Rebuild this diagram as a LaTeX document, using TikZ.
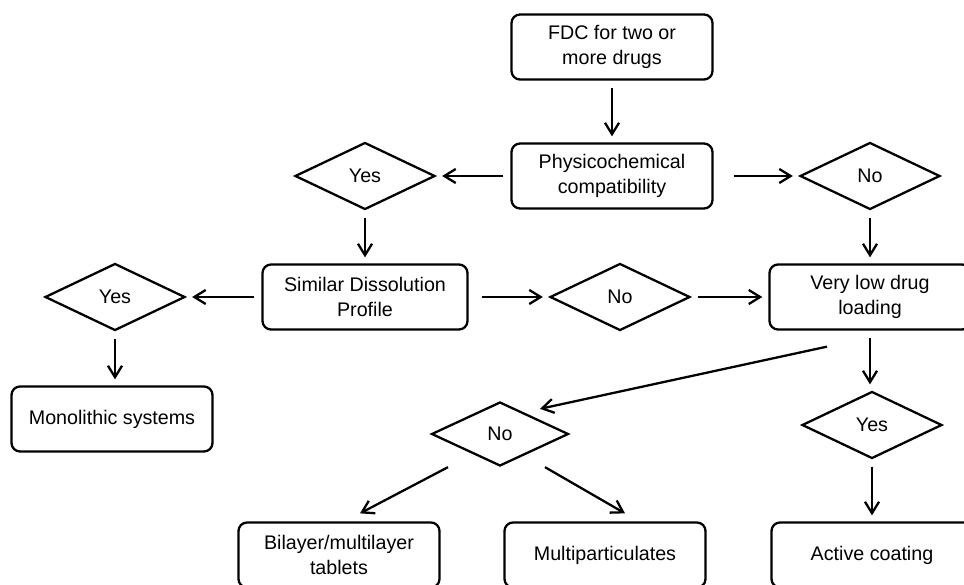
\documentclass[tikz,border=0pt]{standalone}
\usepackage{fontspec}
\setmainfont{Liberation Sans}
\usetikzlibrary{shapes.geometric,arrows.meta,calc}
\tikzset{
	box/.style={draw, line width=1.3pt, rounded corners=0.17cm, minimum width=4.02cm, minimum height=1.3cm, align=center, font=\fontsize{11.2}{14}\selectfont},
	decision/.style={draw, diamond, line width=1.3pt, inner sep=0pt, minimum width=2.8cm, minimum height=1.34cm, font=\fontsize{11.2}{14}\selectfont},
	arr/.style={-{Straight Barb[length=6.5pt,width=8pt]}, line width=1.3pt, shorten <=0.14cm, shorten >=0.12cm}
}
\begin{document}
\begin{tikzpicture}
\useasboundingbox (0, 0) rectangle (19.28, 11.68);

\node[box] (fdc) at (12.24, 10.74) {FDC for two or\\more drugs};
\node[box] (phys) at (12.24, 8.16) {Physicochemical\\compatibility};
\node[decision] (yesA) at (7.30, 8.16) {Yes};
\node[decision] (noA) at (17.40, 8.16) {No};

\node[box, minimum width=4.1cm] (similar) at (7.30, 5.74) {Similar Dissolution\\Profile};
\node[box] (verylow) at (17.40, 5.74) {Very low drug\\loading};
\node[decision] (yesB) at (2.30, 5.74) {Yes};
\node[decision] (noB) at (12.40, 5.74) {No};

\node[box] (mono) at (2.24, 3.30) {Monolithic systems};
\node[decision, minimum width=2.74cm, minimum height=1.28cm] (noC) at (10.00, 3.00) {No};
\node[decision] (yesC) at (17.44, 3.18) {Yes};

\node[box] (bilayer) at (6.78, 0.58) {Bilayer/multilayer\\tablets};
\node[box] (multi) at (12.10, 0.58) {Multiparticulates};
\node[box] (active) at (17.44, 0.58) {Active coating};

\draw[arr] (fdc) -- (phys);
\draw[arr] (phys) -- (yesA);
\draw[arr, shorten <=0.4cm] (phys) -- (noA);
\draw[arr] (yesA) -- (similar);
\draw[arr] (noA) -- (verylow);
\draw[arr] (similar) -- (yesB);
\draw[arr, shorten <=0.26cm] (similar) -- (noB);
\draw[arr] (noB) -- (verylow);
\draw[arr] (yesB.south) -- (yesB.south |- mono.north);
\draw[arr] (verylow.south) -- (verylow.south |- yesC.north);
\draw[arr] (yesC) -- (active);

\coordinate (lowfrom) at ($(verylow.south)+(-0.86,-0.32)$);
\coordinate (lowto) at ($(noC.north)+(0.8,-0.16)$);
\draw[arr, shorten <=0pt, shorten >=0pt] (lowfrom) -- (lowto);
\draw[arr, shorten <=0pt, shorten >=0pt] ($(noC.south)+(-1.04,0)$) -- ($(bilayer.north)+(0.42,0.16)$);
\draw[arr, shorten <=0pt, shorten >=0pt] ($(noC.south)+(0.9,0)$) -- ($(multi.north)+(0.4,0.16)$);
\end{tikzpicture}
\end{document}
